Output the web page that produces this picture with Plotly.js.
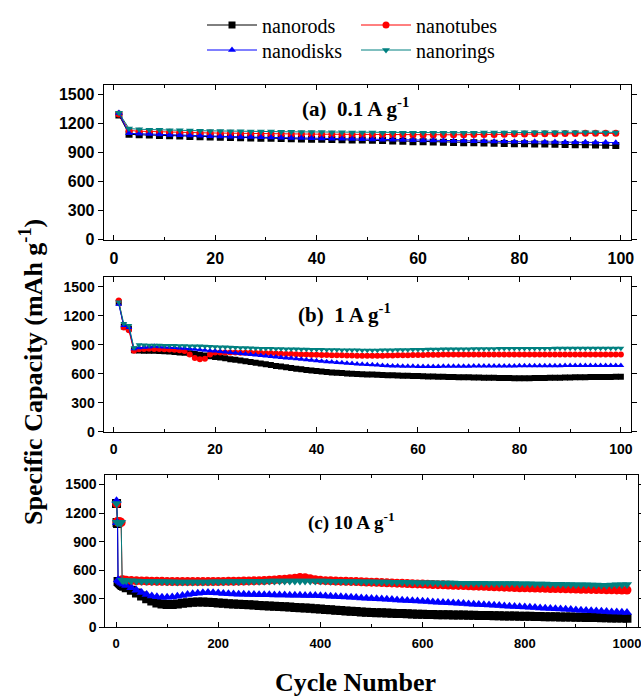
<!DOCTYPE html>
<html>
<head>
<meta charset="utf-8">
<script src="https://cdn.plot.ly/plotly-3.0.1.min.js"></script>
<style>html,body{margin:0;padding:0;background:#fff;}#chart{width:641px;height:696px;}</style>
</head>
<body>
<div id="chart"></div>
<script>
// ---------- DATA ----------
const seriesNames = ["nanorods", "nanotubes", "nanodisks", "nanorings"];
const panelLabels = ["(a)  0.1 A g<sup>-1</sup>", "(b)  1 A g<sup>-1</sup>", "(c) 10 A g<sup>-1</sup>"];
const yTickVals = [0, 300, 600, 900, 1200, 1500];

// Panel (a): 0.1 A g-1, markers on odd cycles
const cycleA = [1,3,5,7,9,11,13,15,17,19,21,23,25,27,29,31,33,35,37,39,41,43,45,47,49,51,53,55,57,59,61,63,65,67,69,71,73,75,77,79,81,83,85,87,89,91,93,95,97,99];
const rodsA  = [1290,1090,1085,1082,1078,1075,1072,1068,1066,1062,1060,1058,1055,1053,1050,1048,1046,1044,1042,1040,1038,1036,1034,1032,1030,1028,1025,1022,1018,1012,1012,1010,1008,1006,1004,1003,1000,998,996,993,992,990,989,987,985,983,981,979,977,975];
const tubesA = [1300,1130,1122,1118,1115,1112,1110,1108,1106,1104,1102,1100,1099,1098,1097,1096,1095,1094,1093,1092,1091,1090,1089,1088,1087,1086,1086,1085,1085,1084,1084,1084,1085,1085,1086,1087,1088,1089,1090,1092,1094,1095,1096,1097,1098,1099,1100,1100,1101,1100];
const disksA = [1310,1100,1096,1092,1088,1084,1080,1077,1074,1071,1068,1066,1063,1061,1059,1057,1055,1053,1051,1049,1047,1045,1043,1041,1039,1037,1035,1033,1031,1029,1027,1026,1024,1022,1021,1019,1018,1016,1015,1014,1013,1012,1011,1010,1009,1008,1007,1006,1005,1004];
const ringsA = [1312,1150,1142,1138,1136,1133,1131,1129,1127,1125,1124,1122,1121,1120,1119,1118,1117,1116,1115,1114,1113,1112,1111,1110,1109,1108,1107,1106,1106,1105,1105,1105,1105,1106,1106,1107,1108,1109,1110,1111,1112,1112,1112,1112,1112,1111,1111,1111,1110,1110];

// Panel (b): 1 A g-1, every cycle 1..100
const cycleB = [1,2,3,4,5,6,7,8,9,10,11,12,13,14,15,16,17,18,19,20,21,22,23,24,25,26,27,28,29,30,31,32,33,34,35,36,37,38,39,40,41,42,43,44,45,46,47,48,49,50,51,52,53,54,55,56,57,58,59,60,61,62,63,64,65,66,67,68,69,70,71,72,73,74,75,76,77,78,79,80,81,82,83,84,85,86,87,88,89,90,91,92,93,94,95,96,97,98,99,100];
const rodsB  = [1340,1090,1070,845,842,840,840,838,836,833,830,826,822,818,813,806,798,790,782,775,768,760,752,745,737,730,722,714,706,698,690,682,675,667,660,653,646,640,634,628,623,618,614,610,607,604,601,598,596,594,592,590,588,586,584,582,580,579,577,576,574,573,571,570,569,567,566,565,564,563,562,561,560,559,558,557,556,556,555,555,555,555,556,556,557,558,559,560,561,562,563,564,565,566,567,567,568,568,569,569];
const tubesB = [1360,1080,1050,840,855,858,860,858,856,854,852,850,845,835,800,765,750,755,800,820,822,822,821,820,819,818,817,816,815,814,812,810,808,806,805,803,801,800,798,797,796,795,793,792,791,790,789,788,788,787,787,787,788,789,790,791,792,793,794,795,796,797,798,798,799,799,800,800,800,800,801,800,800,801,800,800,799,800,800,801,800,800,801,800,799,800,800,801,800,800,800,801,800,800,799,800,800,801,800,800];
const disksB = [1320,1100,1080,860,870,875,878,885,880,878,875,872,868,864,860,855,850,845,840,835,830,825,820,815,810,805,800,795,790,785,780,775,770,765,760,755,750,745,740,735,730,726,722,718,714,710,706,702,699,696,693,690,687,684,682,680,679,678,677,676,676,676,676,676,677,677,678,678,679,679,680,680,680,681,681,681,682,682,682,683,683,683,683,684,684,684,684,684,685,685,685,685,685,685,686,686,686,686,686,686];
const ringsB = [1345,1120,1100,870,900,898,897,896,895,894,893,892,891,890,889,888,887,885,883,881,879,877,875,873,871,869,867,865,863,862,861,860,859,858,857,856,855,854,853,852,851,850,849,848,847,847,846,846,845,845,845,845,846,846,847,848,849,850,851,852,853,854,855,855,856,856,857,857,858,858,859,859,860,860,860,861,861,861,862,862,862,862,863,863,863,863,864,864,864,864,864,865,865,865,865,865,865,866,866,866];

// Panel (c): 10 A g-1, up to 1000 cycles
const cycleC = [1,2,3,4,6,8,10,12,15,20,30,40,50,60,70,80,90,100,110,120,130,140,150,160,170,180,190,200,210,220,230,240,250,260,270,280,290,300,310,320,330,340,350,360,370,380,390,400,410,420,430,440,450,460,470,480,490,500,510,520,530,540,550,560,570,580,590,600,610,620,630,640,650,660,670,680,690,700,710,720,730,740,750,760,770,780,790,800,810,820,830,840,850,860,870,880,890,900,910,920,930,940,950,960,970,980,990,1000];
const rodsC  = [1300,1100,1090,480,470,460,450,440,430,415,390,360,330,300,275,255,245,240,240,245,252,258,262,265,265,263,260,256,252,248,245,242,239,236,233,230,227,224,221,218,215,212,209,206,203,200,196,192,188,184,180,176,172,168,165,162,159,156,154,152,150,148,146,144,142,140,138,136,135,134,133,132,131,130,129,128,127,126,125,124,123,122,121,120,119,118,117,116,115,114,113,112,111,110,109,108,107,106,105,104,103,102,101,100,99,98,97,96];
const tubesC = [1300,1110,1110,1110,1110,1110,1100,500,497,494,491,489,487,486,485,484,483,482,481,480,480,480,480,480,480,480,481,481,482,483,484,485,486,487,488,490,492,495,498,502,506,511,516,524,520,510,500,493,490,488,486,485,484,482,480,478,476,474,472,470,468,466,464,462,460,458,456,454,452,450,448,446,444,442,440,438,436,434,432,430,428,426,424,422,420,418,416,415,414,412,411,410,408,407,406,404,403,402,400,399,398,397,396,395,394,393,392,392];
const disksC = [1330,1100,1100,500,490,480,470,462,452,440,415,390,365,345,330,320,315,315,318,325,335,345,352,358,362,365,364,360,356,352,350,348,346,345,344,343,342,341,340,340,339,338,337,336,335,334,333,332,330,327,324,321,318,315,312,309,306,303,300,297,294,291,288,285,282,279,276,273,270,267,264,261,258,255,252,249,246,243,240,237,234,231,228,225,222,219,216,213,210,207,204,201,198,195,192,189,186,183,180,177,174,171,168,165,162,160,158,155];
const ringsC = [1300,1100,1100,1100,1100,1100,1100,495,492,490,488,486,484,483,482,481,480,479,478,477,477,477,477,477,477,477,478,478,479,480,481,482,483,484,484,485,485,486,486,486,486,487,487,487,487,487,487,487,486,485,484,483,482,481,480,479,478,478,477,476,475,474,473,472,471,470,469,468,467,467,466,466,465,465,464,464,463,463,462,462,461,461,460,460,459,459,458,458,457,456,455,454,453,452,451,450,449,448,447,446,445,444,443,442,444,446,448,450];

// ---------- STYLE ----------
const colors  = ["#000000", "#ff0000", "#0000ff", "#008080"];
const symbols = ["square", "circle", "triangle-up", "triangle-down"];
const W = 641, H = 696;
const SERIF = "Times New Roman, Liberation Serif, Tinos, serif";
const SANS = "Arial, Liberation Sans, Arimo, sans-serif";

const panels = [
  {x: cycleA, ys: [rodsA, tubesA, disksA, ringsA], xa: "x",  ya: "y",  msize: 7},
  {x: cycleB, ys: [rodsB, tubesB, disksB, ringsB], xa: "x2", ya: "y2", msize: 6},
  {x: cycleC, ys: [rodsC, tubesC, disksC, ringsC], xa: "x3", ya: "y3", msize: 9}
];

const traces = [];
panels.forEach((p, pi) => {
  p.ys.forEach((yv, si) => {
    traces.push({
      type: "scatter", mode: "lines+markers",
      x: p.x, y: yv, xaxis: p.xa, yaxis: p.ya,
      name: seriesNames[si],
      line: {color: colors[si], width: 1},
      marker: {symbol: symbols[si], color: colors[si], size: p.msize, line: {width: 0}},
      showlegend: pi === 0,
      legend: si < 2 ? "legend" : "legend2"
    });
  });
});

function px(v) { return v / W; }
function py(v) { return 1 - v / H; }

const tickFont = (s) => ({family: SANS, size: s, color: "#000", weight: 700});

function xAxis(dom, anchor, range, dtick, minorDtick, fs) {
  return {domain: dom, anchor: anchor, range: range, dtick: dtick, tick0: 0,
    ticks: "inside", ticklen: 5, tickcolor: "#000", showline: true, linecolor: "#000", linewidth: 1,
    mirror: "ticks", showgrid: false, zeroline: false, tickfont: tickFont(fs),
    ticklabeloverflow: "allow", ticklabelstandoff: 4,
    minor: {dtick: minorDtick, ticks: "inside", ticklen: 3, tickcolor: "#000"}};
}
function yAxis(dom, anchor, fs) {
  return {domain: dom, anchor: anchor, range: [0, 1600], tickvals: yTickVals,
    ticks: "outside", ticklen: 5, tickcolor: "#000", showline: true, linecolor: "#000", linewidth: 1,
    mirror: "ticks", showgrid: false, zeroline: false, tickfont: tickFont(fs), ticklabeloverflow: "allow"};
}

const legendBase = {orientation: "h", xanchor: "left", yanchor: "middle",
  font: {family: SERIF, size: 20, color: "#000"},
  itemwidth: 50, entrywidth: 89, bgcolor: "rgba(0,0,0,0)", borderwidth: 0};

const annFont = {family: SERIF, size: 19, color: "#000", weight: 700};
const ann = (text, x, y, font, extra) => Object.assign({text: text, xref: "paper", yref: "paper",
  x: px(x), y: py(y), xanchor: "center", yanchor: "middle", showarrow: false, font: font}, extra || {});

const layout = {
  width: W, height: H,
  margin: {l: 0, r: 0, t: 0, b: 0},
  paper_bgcolor: "#fff", plot_bgcolor: "#fff",
  font: {family: SANS},
  showlegend: true,
  legend: Object.assign({}, legendBase, {x: px(202), y: py(25)}),
  legend2: Object.assign({}, legendBase, {x: px(202), y: py(50)}),
  xaxis:  xAxis([px(103.7), px(631)], "y",  [-2, 102], 20, 10, 16),
  yaxis:  yAxis([py(239.7), py(85)], "x", 16),
  xaxis2: xAxis([px(103.5), px(631)], "y2", [-2, 102], 20, 10, 14),
  yaxis2: yAxis([py(431.7), py(277.3)], "x2", 14),
  xaxis3: xAxis([px(105.3), px(637.7)], "y3", [-21, 1021], 200, 100, 13),
  yaxis3: yAxis([py(627.3), py(475)], "x3", 14),
  annotations: [
    ann(panelLabels[0], 355, 108, Object.assign({}, annFont, {size: 21})),
    ann(panelLabels[1], 344, 314, Object.assign({}, annFont, {size: 21})),
    ann(panelLabels[2], 351, 521, annFont),
    ann("Specific Capacity (mAh g<sup>-1</sup>)", 32, 372, {family: SERIF, size: 26, color: "#000", weight: 700}, {textangle: -90}),
    ann("Cycle Number", 355, 682, {family: SERIF, size: 26, color: "#000", weight: 700})
  ]
};

Plotly.newPlot("chart", traces, layout, {displayModeBar: false, staticPlot: true});
</script>
</body>
</html>
